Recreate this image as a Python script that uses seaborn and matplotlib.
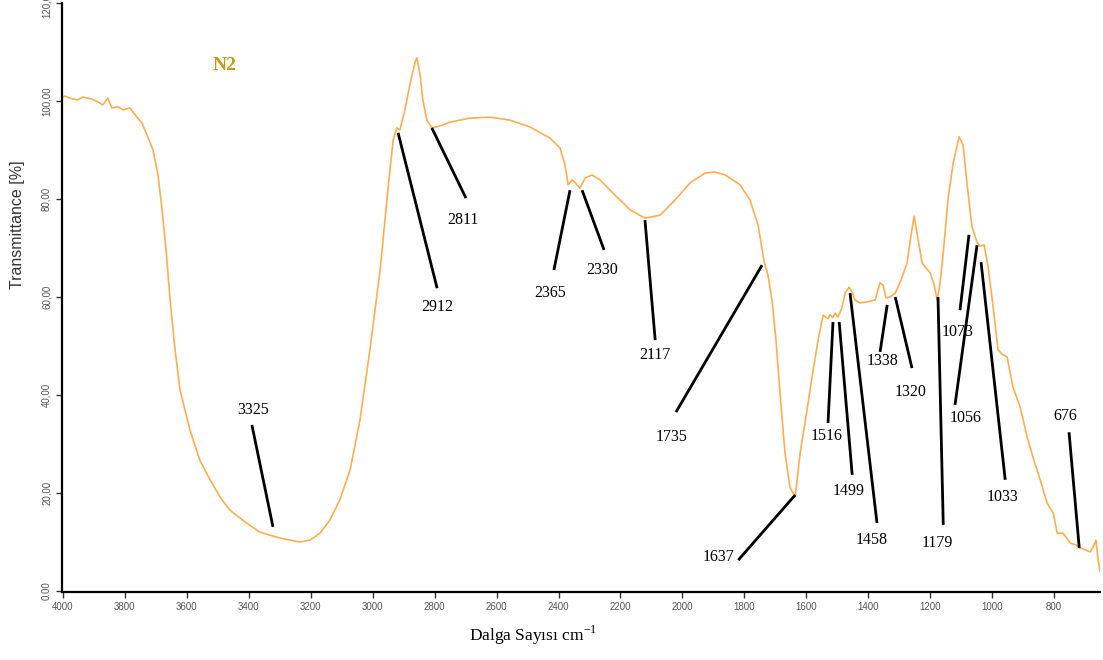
import seaborn as sns
import matplotlib.pyplot as plt
import pandas as pd

# FTIR spectrum (wavenumber cm-1, transmittance %)
wavenumber = [4000, 3994, 3977, 3955, 3935, 3906, 3887, 3871, 3855, 3842, 3822, 3806, 3784,
              3761, 3745, 3729, 3709, 3693, 3680, 3667, 3654, 3638, 3622, 3590, 3558, 3525,
              3493, 3461, 3412, 3364, 3299, 3235, 3202, 3170, 3138, 3106, 3073, 3041, 3009,
              2976, 2951, 2934, 2922, 2912, 2896, 2880, 2863, 2857, 2847, 2838, 2825, 2809,
              2783, 2750, 2686, 2621, 2557, 2492, 2427, 2395, 2379, 2369, 2356, 2343, 2331,
              2314, 2292, 2266, 2218, 2169, 2121, 2072, 2024, 1975, 1927, 1895, 1862, 1814,
              1782, 1756, 1736, 1724, 1711, 1698, 1685, 1669, 1653, 1636, 1620, 1598, 1578,
              1562, 1546, 1530, 1523, 1515, 1507, 1498, 1485, 1475, 1462, 1452, 1443, 1427,
              1404, 1378, 1362, 1352, 1343, 1330, 1313, 1294, 1275, 1262, 1252, 1242, 1226,
              1200, 1187, 1178, 1170, 1158, 1142, 1126, 1107, 1094, 1081, 1065, 1049, 1040,
              1026, 1013, 997, 981, 966, 952, 933, 910, 887, 866, 845, 823, 803, 790, 771,
              748, 730, 716, 700, 684, 671, 665, 658, 652]
transmittance = [100.8, 101.0, 100.6, 100.2, 100.8, 100.4, 99.8, 99.2, 100.6, 98.6, 98.8,
                 98.2, 98.6, 96.7, 95.5, 93.1, 90.0, 84.9, 77.8, 69.6, 59.4, 49.2, 41.0,
                 32.9, 26.7, 22.7, 19.2, 16.5, 14.1, 12.0, 10.8, 10.0, 10.4, 11.8, 14.5,
                 18.6, 24.7, 34.9, 49.2, 65.5, 81.8, 92.0, 94.5, 94.1, 98.2, 103.3, 108.0,
                 108.8, 105.3, 100.2, 96.1, 94.5, 94.9, 95.7, 96.5, 96.7, 96.1, 94.7, 92.4,
                 90.4, 86.9, 82.9, 83.9, 83.1, 82.2, 84.3, 84.9, 83.9, 80.8, 77.8, 76.1,
                 76.7, 79.8, 83.3, 85.3, 85.5, 84.9, 82.9, 79.8, 74.7, 67.1, 64.5, 59.4,
                 51.2, 40.4, 28.2, 21.2, 19.2, 28.2, 36.9, 45.1, 51.2, 56.3, 55.6, 56.4,
                 55.8, 56.7, 55.9, 57.8, 60.8, 62.0, 61.0, 59.4, 58.8, 59.0, 59.4, 62.9,
                 62.4, 59.8, 60.0, 60.8, 63.5, 66.9, 72.7, 76.5, 72.7, 66.9, 64.9, 62.4,
                 59.4, 62.0, 69.0, 80.4, 87.3, 92.7, 91.0, 82.9, 74.3, 71.2, 70.4, 70.6,
                 66.1, 58.0, 49.2, 48.2, 47.8, 41.6, 37.6, 31.4, 26.8, 22.7, 18.0, 15.9,
                 11.8, 11.8, 9.8, 9.4, 8.8, 8.4, 8.0, 9.4, 10.4, 6.3, 3.9]

# peak labels: label, tip of leader line, end of leader line, text centre
peak_labels = ["3325", "2912", "2811", "2365", "2330", "2117", "1735", "1637", "1516",
               "1499", "1458", "1338", "1320", "1179", "1073", "1056", "1033", "676"]
tips = [(3322, 13.1), (2918, 93.5), (2809, 94.5), (2363, 81.8), (2324, 81.8), (2121, 75.7),
        (1743, 66.5), (1636, 19.6), (1514, 54.9), (1494, 54.9), (1459, 60.8), (1339, 58.4),
        (1313, 60.0), (1175, 60.0), (1075, 72.7), (1049, 70.6), (1036, 67.1), (719, 8.8)]
ends = [(3390, 33.9), (2792, 61.8), (2699, 80.2), (2415, 65.5), (2253, 69.6), (2088, 51.2),
        (2021, 36.5), (1820, 6.3), (1530, 34.3), (1452, 23.7), (1372, 13.9), (1362, 48.8),
        (1259, 45.5), (1158, 13.5), (1104, 57.3), (1120, 38.0), (958, 22.7), (752, 32.4)]
text_pos = [(3386, 36.9), (2792, 58.0), (2708, 75.7), (2427, 60.8), (2260, 65.5), (2088, 48.2),
            (2034, 31.4), (1885, 6.9), (1536, 31.6), (1462, 20.4), (1388, 10.4), (1355, 46.9),
            (1265, 40.6), (1178, 9.8), (1113, 52.9), (1087, 35.3), (968, 19.2), (765, 35.7)]

yticks = [0, 20, 40, 60, 80, 100, 120]
ytick_labels = ["0.00", "20,00", "40,00", "60,00", "80,00", "100,00", "120,00"]
xticks = [4000, 3800, 3600, 3400, 3200, 3000, 2800, 2600, 2400, 2200, 2000, 1800, 1600,
          1400, 1200, 1000, 800]

df = pd.DataFrame({"wavenumber": wavenumber, "transmittance": transmittance})

sns.set_style("white")
plt.rcParams["font.family"] = ["Liberation Sans", "DejaVu Sans"]

fig = plt.figure(figsize=(11.03, 6.6), dpi=100)
ax = fig.add_axes([62 / 1103, 68 / 660, 1038 / 1103, 589 / 660])
sns.lineplot(data=df, x="wavenumber", y="transmittance", color="#FFAD4F", linewidth=1.2, ax=ax)

ax.set_xlim(4003, 652)
ax.set_ylim(-0.2, 120)
ax.set_xticks(xticks)
ax.set_xticklabels([str(t) for t in xticks], fontsize=7, color="#555555")
ax.set_yticks(yticks)
ax.set_yticklabels(ytick_labels, fontsize=7, color="#555566", rotation=90, va="center")
ax.tick_params(axis="both", direction="out", length=4, width=1, colors="#333333",
               labelcolor="#555555", bottom=True, left=True)
for s in ["top", "right"]:
    ax.spines[s].set_visible(False)
for s in ["left", "bottom"]:
    ax.spines[s].set_color("black")
    ax.spines[s].set_linewidth(1.6)
ax.set_xlabel("")
ax.set_ylabel("")

for lab, tip, end, tp in zip(peak_labels, tips, ends, text_pos):
    ax.plot([tip[0], end[0]], [tip[1], end[1]], color="black", linewidth=2, solid_capstyle="butt")
    ax.text(tp[0], tp[1], lab, ha="center", va="center", fontsize=11.5,
            family="Liberation Serif", color="black")

ax.text(3477, 107.3, "N2", ha="center", va="center", fontsize=14, fontweight="bold",
        family="Liberation Serif", color="#C49A10")

fig.text(18 / 1103, 1 - 225 / 660, "Transmittance [%]", rotation=90, ha="center", va="center",
         fontsize=11.5, color="#333333")
fig.text(533 / 1103, 1 - 635 / 660, r"Dalga Sayısı cm$^{\mathregular{-1}}$", ha="center",
         va="center", fontsize=12.5, family="Liberation Serif", color="black")

plt.savefig("out.png", dpi=100)
plt.close()
